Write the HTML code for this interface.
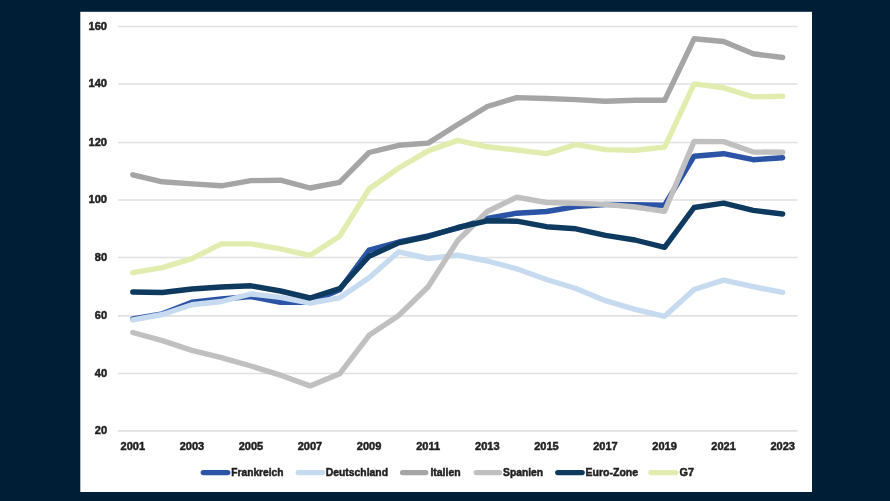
<!DOCTYPE html>
<html><head><meta charset="utf-8"><style>
html,body{margin:0;padding:0;}
body{width:890px;height:501px;overflow:hidden;background:#001F36;}
svg{display:block;filter:blur(0.35px);}
text{font-family:"Liberation Sans",sans-serif;font-weight:bold;font-size:11px;fill:#1F1F1F;stroke:#1F1F1F;stroke-width:0.5px;}
</style></head><body>
<svg width="890" height="501" viewBox="0 0 890 501">
<rect x="0" y="0" width="890" height="501" fill="#001F36"/>
<rect x="80.3" y="11.8" width="731.7" height="480.2" fill="#FFFFFF"/>
<g stroke="#E0E0E0" stroke-width="1.6"><line x1="118" y1="26.5" x2="797.5" y2="26.5"/><line x1="118" y1="84.0" x2="797.5" y2="84.0"/><line x1="118" y1="142.5" x2="797.5" y2="142.5"/><line x1="118" y1="200.0" x2="797.5" y2="200.0"/><line x1="118" y1="257.5" x2="797.5" y2="257.5"/><line x1="118" y1="315.9" x2="797.5" y2="315.9"/><line x1="118" y1="373.5" x2="797.5" y2="373.5"/><line x1="118" y1="430.9" x2="797.5" y2="430.9"/></g>
<g><text x="88.5" y="29.9" textLength="18.5" lengthAdjust="spacingAndGlyphs">160</text><text x="88.5" y="87.4" textLength="18.5" lengthAdjust="spacingAndGlyphs">140</text><text x="88.5" y="145.9" textLength="18.5" lengthAdjust="spacingAndGlyphs">120</text><text x="88.5" y="203.4" textLength="18.5" lengthAdjust="spacingAndGlyphs">100</text><text x="94.8" y="260.9" textLength="12.2" lengthAdjust="spacingAndGlyphs">80</text><text x="94.8" y="319.3" textLength="12.2" lengthAdjust="spacingAndGlyphs">60</text><text x="94.8" y="376.9" textLength="12.2" lengthAdjust="spacingAndGlyphs">40</text><text x="94.8" y="434.3" textLength="12.2" lengthAdjust="spacingAndGlyphs">20</text></g>
<g><text x="132.8" y="450.2" text-anchor="middle">2001</text><text x="191.9" y="450.2" text-anchor="middle">2003</text><text x="250.9" y="450.2" text-anchor="middle">2005</text><text x="310.0" y="450.2" text-anchor="middle">2007</text><text x="369.1" y="450.2" text-anchor="middle">2009</text><text x="428.2" y="450.2" text-anchor="middle">2011</text><text x="487.3" y="450.2" text-anchor="middle">2013</text><text x="546.4" y="450.2" text-anchor="middle">2015</text><text x="605.5" y="450.2" text-anchor="middle">2017</text><text x="664.6" y="450.2" text-anchor="middle">2019</text><text x="723.6" y="450.2" text-anchor="middle">2021</text><text x="782.7" y="450.2" text-anchor="middle">2023</text></g>
<g fill="none" stroke-width="5.4" stroke-linejoin="round" stroke-linecap="round"><polyline points="132.8,318.8 162.3,313.8 191.9,302.3 221.4,299.0 250.9,296.5 280.5,302.4 310.0,302.4 339.6,289.8 369.1,250.0 398.7,242.0 428.2,235.8 457.8,228.2 487.3,218.5 516.8,213.2 546.4,211.5 575.9,206.6 605.5,204.5 635.0,204.6 664.6,205.2 694.1,156.2 723.6,153.7 753.2,159.7 782.7,157.7" stroke="#2B54A6"/><polyline points="132.8,319.9 162.3,314.5 191.9,304.8 221.4,301.5 250.9,294.0 280.5,297.4 310.0,303.0 339.6,297.8 369.1,277.8 398.7,251.8 428.2,258.5 457.8,255.1 487.3,261.0 516.8,268.8 546.4,279.5 575.9,288.5 605.5,300.7 635.0,309.3 664.6,316.3 694.1,289.5 723.6,280.2 753.2,286.7 782.7,292.3" stroke="#C6DBEF"/><polyline points="132.8,174.8 162.3,181.8 191.9,183.9 221.4,185.8 250.9,180.6 280.5,180.2 310.0,188.0 339.6,182.4 369.1,152.5 398.7,145.3 428.2,143.1 457.8,124.5 487.3,106.5 516.8,97.6 546.4,98.5 575.9,99.6 605.5,101.2 635.0,100.3 664.6,100.3 694.1,38.8 723.6,41.5 753.2,53.8 782.7,57.5" stroke="#A5A5A5"/><polyline points="132.8,332.5 162.3,340.6 191.9,350.4 221.4,357.6 250.9,366.0 280.5,375.2 310.0,385.9 339.6,373.8 369.1,335.3 398.7,315.5 428.2,286.7 457.8,240.5 487.3,211.5 516.8,197.1 546.4,202.5 575.9,203.2 605.5,204.4 635.0,207.0 664.6,211.3 694.1,141.4 723.6,141.6 753.2,152.0 782.7,152.2" stroke="#C0C0C0"/><polyline points="132.8,292.0 162.3,292.5 191.9,289.0 221.4,287.0 250.9,285.8 280.5,291.0 310.0,298.0 339.6,288.7 369.1,256.3 398.7,242.9 428.2,236.5 457.8,227.5 487.3,220.8 516.8,221.2 546.4,226.7 575.9,228.8 605.5,235.3 635.0,240.0 664.6,247.3 694.1,207.5 723.6,203.2 753.2,210.4 782.7,214.0" stroke="#0E3A60"/><polyline points="132.8,272.7 162.3,267.6 191.9,258.6 221.4,243.9 250.9,243.9 280.5,248.8 310.0,255.5 339.6,236.3 369.1,189.0 398.7,168.0 428.2,150.9 457.8,140.4 487.3,146.8 516.8,150.0 546.4,153.6 575.9,144.6 605.5,149.6 635.0,150.3 664.6,147.1 694.1,83.9 723.6,87.8 753.2,96.8 782.7,96.3" stroke="#E1EDAE"/></g>
<g><line x1="203.3" y1="472.6" x2="227.7" y2="472.6" stroke="#2B54A6" stroke-width="5.4" stroke-linecap="round"/><text x="231.3" y="476.4" textLength="52.2" lengthAdjust="spacingAndGlyphs">Frankreich</text><line x1="298.3" y1="472.6" x2="322.7" y2="472.6" stroke="#C6DBEF" stroke-width="5.4" stroke-linecap="round"/><text x="325.7" y="476.4" textLength="62.3" lengthAdjust="spacingAndGlyphs">Deutschland</text><line x1="402.6" y1="472.6" x2="425.7" y2="472.6" stroke="#A5A5A5" stroke-width="5.4" stroke-linecap="round"/><text x="430.4" y="476.4" textLength="30.2" lengthAdjust="spacingAndGlyphs">Italien</text><line x1="476.3" y1="472.6" x2="499.5" y2="472.6" stroke="#C0C0C0" stroke-width="5.4" stroke-linecap="round"/><text x="503.09999999999997" y="476.4" textLength="40.0" lengthAdjust="spacingAndGlyphs">Spanien</text><line x1="557.8" y1="472.6" x2="582.1" y2="472.6" stroke="#0E3A60" stroke-width="5.4" stroke-linecap="round"/><text x="585.5" y="476.4" textLength="52.6" lengthAdjust="spacingAndGlyphs">Euro-Zone</text><line x1="651.0" y1="472.6" x2="675.6" y2="472.6" stroke="#E1EDAE" stroke-width="5.4" stroke-linecap="round"/><text x="679.5" y="476.4" textLength="14.5" lengthAdjust="spacingAndGlyphs">G7</text></g>
</svg>
</body></html>
